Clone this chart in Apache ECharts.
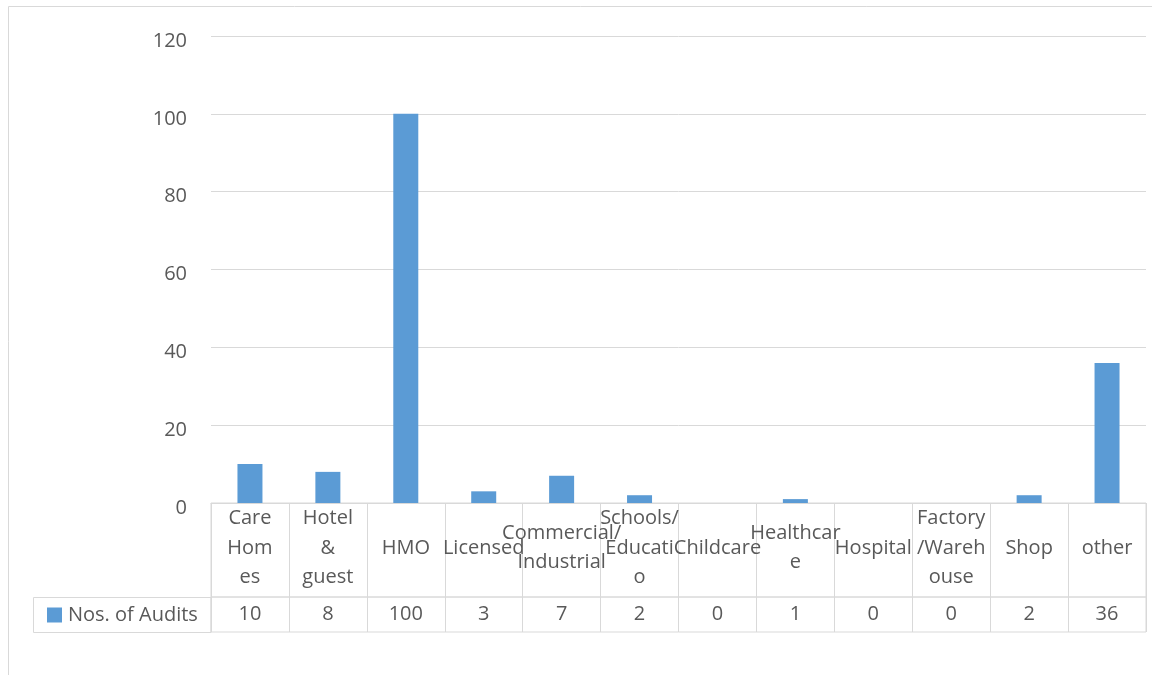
<!DOCTYPE html>
<html>
<head>
<meta charset="utf-8">
<script src="https://cdn.jsdelivr.net/npm/echarts@6/dist/echarts.min.js"></script>
<style>
  html, body { margin: 0; padding: 0; background: #fff; }
  #chart { width: 1152px; height: 675px; }
</style>
</head>
<body>
<div id="chart"></div>
<script>
// Audit counts by premises type, with a data table under the axis
const categories = [
  'Care\nHom\nes', 'Hotel\n&\nguest', 'HMO', 'Licensed', 'Commercial/\nIndustrial',
  'Schools/\nEducati\no', 'Childcare', 'Healthcar\ne', 'Hospital', 'Factory\n/Wareh\nouse',
  'Shop', 'other'
];
const seriesName = 'Nos. of Audits';
const audits = [10, 8, 100, 3, 7, 2, 0, 1, 0, 0, 2, 36];
const yTicks = { min: 0, max: 120, interval: 20 };

const FONT = "'Open Sans', sans-serif";
const TEXT = '#595959';
const LINE = '#d9d9d9';
const BAR = '#5b9bd5';

const chart = echarts.init(document.getElementById('chart'));

const hiddenY = (gi) => ({ gridIndex: gi, type: 'value', show: false });

chart.setOption({
  animation: false,
  textStyle: { fontFamily: FONT },
  legend: {
    data: [seriesName],
    left: 42, top: 600,
    icon: 'rect', itemWidth: 15, itemHeight: 15,
    textStyle: { fontFamily: FONT, fontSize: 20, color: TEXT, padding: [0, 0, 0, 1] },
    selectedMode: false
  },
  grid: [
    { left: 211, right: 6, top: 36, height: 467 },
    { left: 211, right: 6, top: 503, height: 94, show: true, borderColor: LINE, borderWidth: 1, backgroundColor: 'transparent' },
    { left: 211, right: 6, top: 597, height: 35, show: true, borderColor: LINE, borderWidth: 1, backgroundColor: 'transparent' }
  ],
  xAxis: [
    {
      gridIndex: 0, type: 'category', data: categories,
      axisLine: { lineStyle: { color: LINE, width: 1 } },
      axisTick: { show: false },
      axisLabel: {
        interval: 0, hideOverlap: false, margin: 45,
        verticalAlign: 'middle', align: 'center',
        fontFamily: FONT, fontSize: 20, lineHeight: 29.5, color: TEXT
      }
    },
    {
      gridIndex: 1, type: 'category', data: categories,
      axisLine: { show: false }, axisTick: { show: false }, axisLabel: { show: false },
      splitLine: { show: true, interval: 0, lineStyle: { color: LINE, width: 1 } }
    },
    {
      gridIndex: 2, type: 'category', position: 'top',
      data: audits.map(String),
      axisLine: { show: false }, axisTick: { show: false },
      splitLine: { show: true, interval: 0, lineStyle: { color: LINE, width: 1 } },
      axisLabel: {
        inside: true, interval: 0, margin: 17, verticalAlign: 'middle',
        fontFamily: FONT, fontSize: 20, color: TEXT
      }
    }
  ],
  yAxis: [
    {
      gridIndex: 0, type: 'value',
      min: yTicks.min, max: yTicks.max, interval: yTicks.interval,
      axisLine: { show: false }, axisTick: { show: false },
      splitLine: { lineStyle: { color: LINE, width: 1 } },
      axisLabel: {
        margin: 24, fontFamily: FONT, fontSize: 20, color: TEXT,
        verticalAlign: 'top', lineHeight: 10
      }
    },
    hiddenY(1),
    hiddenY(2)
  ],
  series: [
    {
      name: seriesName, type: 'bar', data: audits,
      xAxisIndex: 0, yAxisIndex: 0,
      barWidth: 25, itemStyle: { color: BAR }
    }
  ],
  graphic: [
    // chart area frame
    { type: 'rect', silent: true, z: -1,
      shape: { x: 8.5, y: 6.5, width: 1200, height: 700 },
      style: { fill: 'none', stroke: LINE, lineWidth: 1 } },
    // legend key cell of the data table
    { type: 'rect', silent: true,
      shape: { x: 33.5, y: 597.5, width: 177.5, height: 35 },
      style: { fill: 'none', stroke: LINE, lineWidth: 1 } }
  ]
});
</script>
</body>
</html>
